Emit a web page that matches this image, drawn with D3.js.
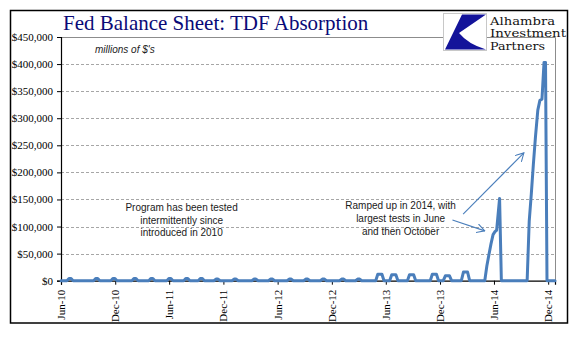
<!DOCTYPE html>
<html>
<head>
<meta charset="utf-8">
<script src="https://cdn.jsdelivr.net/npm/d3@7"></script>
<style>
  body { margin: 0; background: #fff; }
  svg { display: block; }
</style>
</head>
<body>
<div id="app"></div>
<script>
// weekly TDF balances, millions of dollars
var weekDates = [
  "2010-06-01",
  "2010-06-21", "2010-06-28", "2010-07-05", "2010-07-12",
  "2010-09-19", "2010-09-26", "2010-10-03", "2010-10-10",
  "2010-11-16", "2010-11-23", "2010-11-30", "2010-12-07",
  "2011-01-26", "2011-02-02", "2011-02-09", "2011-02-16",
  "2011-03-24", "2011-03-31", "2011-04-07", "2011-04-14",
  "2011-05-24", "2011-05-31", "2011-06-07", "2011-06-14",
  "2011-07-20", "2011-07-27", "2011-08-03", "2011-08-10",
  "2011-09-07", "2011-09-14", "2011-09-21", "2011-09-28",
  "2011-10-30", "2011-11-06", "2011-11-13", "2011-11-20",
  "2011-12-30", "2012-01-06", "2012-01-13", "2012-01-20",
  "2012-03-06", "2012-03-13", "2012-03-20", "2012-03-27",
  "2012-05-01", "2012-05-08", "2012-05-15", "2012-05-22",
  "2012-07-03", "2012-07-10", "2012-07-17", "2012-07-24",
  "2012-08-28", "2012-09-04", "2012-09-11", "2012-09-18",
  "2012-10-23", "2012-10-30", "2012-11-06", "2012-11-13",
  "2012-12-27", "2013-01-03", "2013-01-10", "2013-01-17",
  "2013-02-19", "2013-02-26", "2013-03-05", "2013-03-12",
  "2013-04-28", "2013-05-05", "2013-05-12", "2013-05-19", "2013-05-26",
  "2013-06-14", "2013-06-21", "2013-06-28", "2013-07-05", "2013-07-12",
  "2013-08-13", "2013-08-20", "2013-08-27", "2013-09-03", "2013-09-10",
  "2013-10-29", "2013-11-05", "2013-11-12", "2013-11-19", "2013-11-26",
  "2013-12-12", "2013-12-19", "2013-12-26", "2014-01-02", "2014-01-09",
  "2014-02-11", "2014-02-18", "2014-02-25", "2014-03-04", "2014-03-11",
  "2014-05-01", "2014-05-08", "2014-05-15", "2014-05-22", "2014-05-29",
  "2014-06-05", "2014-06-10", "2014-06-20", "2014-06-26",
  "2014-09-21", "2014-09-28", "2014-10-05", "2014-10-12", "2014-10-19",
  "2014-10-27", "2014-11-03", "2014-11-10", "2014-11-17", "2014-11-22", "2014-11-27",
  "2014-12-24"
];
var weekValues = [
  0,
  0, 4000, 4000, 0,
  0, 4000, 4000, 0,
  0, 4000, 4000, 0,
  0, 4000, 4000, 0,
  0, 4000, 4000, 0,
  0, 4000, 4000, 0,
  0, 4000, 4000, 0,
  0, 4000, 4000, 0,
  0, 3000, 3000, 0,
  0, 3000, 3000, 0,
  0, 3000, 3000, 0,
  0, 3000, 3000, 0,
  0, 3000, 3000, 0,
  0, 3000, 3000, 0,
  0, 3000, 3000, 0,
  0, 3000, 3000, 0,
  0, 3000, 3000, 0,
  0, 12000, 12000, 12000, 0,
  0, 11000, 11000, 11000, 0,
  0, 11000, 11000, 11000, 0,
  0, 12000, 12000, 12000, 0,
  0, 9000, 9000, 9000, 0,
  0, 16000, 16000, 16000, 0,
  0, 27000, 48000, 68000, 85000,
  91000, 93000, 152000, 0,
  0, 110000, 160000, 215000, 265000,
  315000, 333000, 335000, 403000, 403000, 0,
  0
];

var xTickDates = ["2010-06-01", "2010-12-01", "2011-06-01", "2011-12-01", "2012-06-01",
  "2012-12-01", "2013-06-01", "2013-12-01", "2014-06-01", "2014-12-01"];
var yTicks = [0, 50000, 100000, 150000, 200000, 250000, 300000, 350000, 400000, 450000];

var noteLeft = ["Program has been tested", "intermittently since", "introduced in 2010"];
var noteRight = ["Ramped up in 2014, with", "largest tests in June", "and then October"];
var logoLines = ["Alhambra", "Investment", "Partners"];
var logoWidths = [65, 76, 55];

var parse = d3.timeParse("%Y-%m-%d");
var data = weekDates.map(function(d, i) { return {date: parse(d), value: weekValues[i]}; });

var width = 577, height = 341;
var plot = {left: 61, right: 555, top: 37, bottom: 280.7};
var blue = "#4a7ebb";

var svg = d3.select("#app")
  .append("svg")
    .attr("width", width)
    .attr("height", height);

svg.append("rect")
  .attr("width", width).attr("height", height)
  .attr("fill", "#fff");

// outer frame
svg.append("rect")
  .attr("x", 10.5).attr("y", 10.5)
  .attr("width", 557).attr("height", 312.5)
  .attr("fill", "none")
  .attr("stroke", "#000")
  .attr("stroke-width", 1.5);

var x = d3.scaleTime()
  .domain([parse("2010-06-01"), parse("2014-12-24")])
  .range([plot.left, plot.right]);

var y = d3.scaleLinear()
  .domain([0, 450000])
  .range([plot.bottom, plot.top]);

// gridlines
svg.append("g")
  .selectAll("line")
  .data(yTicks.filter(function(v) { return v > 0 && v < 450000; }))
  .join("line")
    .attr("x1", plot.left).attr("x2", plot.right)
    .attr("y1", function(d) { return Math.round(y(d)) + 0.5; })
    .attr("y2", function(d) { return Math.round(y(d)) + 0.5; })
    .attr("stroke", "#a6a6a6")
    .attr("stroke-dasharray", "3,2");

// plot area border (top and right)
svg.append("path")
  .attr("d", "M" + plot.left + "," + (Math.round(plot.top) + 0.5) +
             "H" + (plot.right + 0.5) + "V" + plot.bottom)
  .attr("fill", "none")
  .attr("stroke", "#8c8c8c");

// axes
var yAxis = svg.append("g")
  .attr("transform", "translate(" + plot.left + ",0)")
  .call(d3.axisLeft(y)
    .tickValues(yTicks)
    .tickSize(4)
    .tickPadding(4)
    .tickFormat(function(d) { return "$" + d3.format(",")(d); }));

var xAxis = svg.append("g")
  .attr("transform", "translate(0," + plot.bottom + ")")
  .call(d3.axisBottom(x)
    .tickValues(xTickDates.map(parse))
    .tickSize(4)
    .tickFormat(d3.timeFormat("%b-%y")));

[yAxis, xAxis].forEach(function(a) {
  a.select(".domain").attr("stroke", "#000").attr("stroke-width", 1.2);
  a.selectAll(".tick line").attr("stroke", "#000");
  a.selectAll("text")
    .attr("fill", "#000")
    .style("font-family", "'Liberation Serif', 'Times New Roman', serif")
    .style("font-size", "11px");
});

xAxis.selectAll("text")
  .attr("transform", "rotate(-90)")
  .attr("text-anchor", "end")
  .attr("x", -9)
  .attr("y", 0)
  .attr("dy", "0.32em");

// series
var line = d3.line()
  .x(function(d) { return x(d.date); })
  .y(function(d) { return y(d.value); });

svg.append("path")
  .datum(data)
  .attr("d", line)
  .attr("fill", "none")
  .attr("stroke", blue)
  .attr("stroke-width", 3)
  .attr("stroke-linejoin", "round")
  .attr("stroke-linecap", "round");

// title
svg.append("text")
  .attr("x", 63).attr("y", 30)
  .attr("fill", "#0a0a78")
  .style("font-family", "'Liberation Serif', 'Times New Roman', serif")
  .style("font-size", "21px")
  .text("Fed Balance Sheet: TDF Absorption");

svg.append("text")
  .attr("x", 95).attr("y", 53)
  .attr("fill", "#222")
  .style("font-family", "'Liberation Sans', Arial, sans-serif")
  .style("font-style", "italic")
  .style("font-size", "10px")
  .text("millions of $'s");

// notes
function addNote(lines, date, value) {
  var t = svg.append("text")
    .attr("text-anchor", "middle")
    .attr("fill", "#1a1a1a")
    .style("font-family", "'Liberation Sans', Arial, sans-serif")
    .style("font-size", "10px");
  t.selectAll("tspan")
    .data(lines)
    .join("tspan")
      .attr("x", x(parse(date)))
      .attr("y", function(d, i) { return y(value) + i * 12.7; })
      .text(function(d) { return d; });
}
addNote(noteLeft, "2011-07-13", 129000);
addNote(noteRight, "2013-07-21", 132000);

// arrows
var defs = svg.append("defs");
defs.append("marker")
  .attr("id", "head")
  .attr("viewBox", "0 0 10 10")
  .attr("refX", 9).attr("refY", 5)
  .attr("markerWidth", 9).attr("markerHeight", 9)
  .attr("markerUnits", "userSpaceOnUse")
  .attr("orient", "auto")
  .append("path")
    .attr("d", "M0,0L9,5L0,10")
    .attr("fill", "none")
    .attr("stroke", blue)
    .attr("stroke-width", 1.2);

var arrows = [
  [["2014-02-17", 123000], ["2014-09-10", 236000]],
  [["2014-01-12", 112000], ["2014-05-01", 92000]]
];
svg.append("g")
  .selectAll("line")
  .data(arrows)
  .join("line")
    .attr("x1", function(d) { return x(parse(d[0][0])); })
    .attr("y1", function(d) { return y(d[0][1]); })
    .attr("x2", function(d) { return x(parse(d[1][0])); })
    .attr("y2", function(d) { return y(d[1][1]); })
    .attr("stroke", blue)
    .attr("stroke-width", 1.1)
    .attr("marker-end", "url(#head)");

// logo
var logo = svg.append("g");
logo.append("rect")
  .attr("x", 443.5).attr("y", 13.5)
  .attr("width", 43).attr("height", 37)
  .attr("fill", "#fff")
  .attr("stroke", "#c8c8c8");
logo.append("path")
  .attr("d", "M462,14.5 L486,14.5 L459,33 Q468,44 486,49.5 L445,49.5 Z")
  .attr("fill", "#13139a");

logo.append("g")
  .attr("fill", "#111")
  .style("font-family", "'DejaVu Serif', serif")
  .style("font-size", "10.8px")
  .selectAll("text")
  .data(logoLines)
  .join("text")
    .attr("x", 490)
    .attr("y", function(d, i) { return 24.5 + i * 12.6; })
    .attr("textLength", function(d, i) { return logoWidths[i]; })
    .attr("lengthAdjust", "spacingAndGlyphs")
    .text(function(d) { return d; });
</script>
</body>
</html>
